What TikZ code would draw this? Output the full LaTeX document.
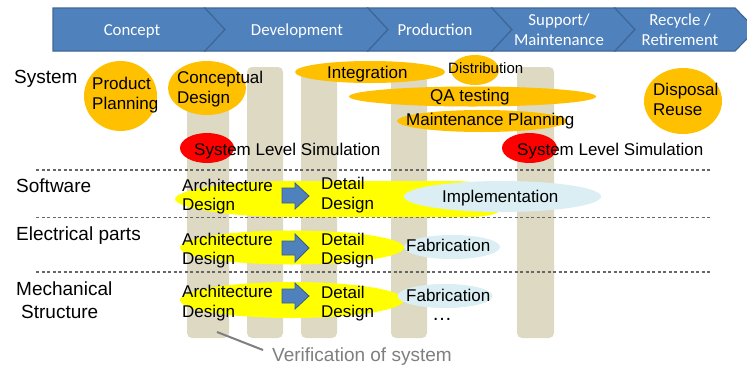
\documentclass[tikz,border=0pt]{standalone}
\usepackage{fontspec}
\setmainfont{Liberation Sans}
\newfontfamily\hdrfont{Carlito}
\usetikzlibrary{shapes.geometric}
\definecolor{hdrblue}{HTML}{4F81BD}
\definecolor{hdrline}{HTML}{3F6797}
\definecolor{pillarc}{HTML}{DDD9C3}
\definecolor{orng}{HTML}{FFC000}
\definecolor{ltblue}{HTML}{DAEEF3}
\definecolor{yel}{HTML}{FFFF00}
\definecolor{rd}{HTML}{FF0000}
\definecolor{dashgrey}{HTML}{666666}
\definecolor{vgrey}{HTML}{7F7F7F}
\definecolor{arrblue}{HTML}{4F81BD}
\definecolor{arrline}{HTML}{385D8A}
\tikzset{
  chev/.style={fill=hdrblue, draw=hdrline, line width=1.2pt, line join=miter},
  hdr/.style={anchor=base, inner sep=0pt, text=white, font=\hdrfont\fontsize{16.8}{20}\selectfont},
  txt/.style={anchor=base west, inner sep=0pt, font=\fontsize{17}{20}\selectfont},
  small/.style={anchor=base west, inner sep=0pt, font=\fontsize{15}{18}\selectfont},
  rowlbl/.style={anchor=base west, inner sep=0pt, font=\fontsize{19}{22}\selectfont},
  pil/.style={fill=pillarc, rounded corners=5pt},
  ell/.style={ellipse, draw=none, inner sep=0pt},
  oell/.style={ell, fill=orng},
  rell/.style={ell, fill=rd},
  yell/.style={ell, fill=yel},
  bell/.style={ell, fill=ltblue},
  sep/.style={draw=dashgrey, line width=1.1pt, dash pattern=on 3pt off 2.5pt},
  blk/.style={fill=arrblue, draw=arrline, line width=0.8pt},
  vline/.style={draw=vgrey, line width=2pt}
}
\begin{document}
\begin{tikzpicture}[x=1pt,y=-1pt]
\useasboundingbox (0,0) rectangle (747,365);
\fill[white] (0,0) rectangle (747,365);

% header chevrons
\filldraw[chev] (53,8) -- (205,8) -- (225,29.5) -- (205,51) -- (53,51) -- cycle;
\filldraw[chev] (205,8) -- (368,8) -- (388,29.5) -- (368,51) -- (205,51) -- (225,29.5) -- cycle;
\filldraw[chev] (368,8) -- (492,8) -- (512,29.5) -- (492,51) -- (368,51) -- (388,29.5) -- cycle;
\filldraw[chev] (492,8) -- (615,8) -- (635,29.5) -- (615,51) -- (492,51) -- (512,29.5) -- cycle;
\filldraw[chev] (615,8) -- (735,8) -- (756,29.5) -- (735,51) -- (615,51) -- (635,29.5) -- cycle;
\node[hdr] (hconcept) at (132,35.7) {Concept};
\node[hdr] (hdev) at (297,35.7) {Development};
\node[hdr] (hprod) at (435,35.7) {Production};
\node[hdr] (hsup1) at (559,25) {Support/};
\node[hdr] (hsup2) at (559,45) {Maintenance};
\node[hdr] (hrec1) at (680,25) {Recycle /};
\node[hdr] (hrec2) at (680,45) {Retirement};

% pillars
\fill[pil] (187,72) rectangle (229,338);
\fill[pil] (247,67) rectangle (283,338);
\fill[pil] (301,72) rectangle (337,338);
\fill[pil] (391,72) rectangle (427,338);
\fill[pil] (517,67) rectangle (554,338);

% dashed separators
\coordinate (s1a) at (36,170);   \coordinate (s1b) at (710,170);
\coordinate (s2a) at (36,217.5); \coordinate (s2b) at (710,217.5);
\coordinate (s3a) at (36,272);   \coordinate (s3b) at (710,272);
\draw[sep] (s1a) -- (s1b);
\draw[sep] (s2a) -- (s2b);
\draw[sep] (s3a) -- (s3b);

% system row shapes
\node[oell, minimum width=73pt, minimum height=70pt] (pp) at (120.5,96) {};
\node[oell, minimum width=78pt, minimum height=54pt] (cd) at (207,88) {};
\node[oell, minimum width=150pt, minimum height=22pt] (integ) at (370,72) {};
\node[oell, minimum width=48pt, minimum height=30pt] (distr) at (475,70) {};
\node[oell, minimum width=247pt, minimum height=20pt] (qa) at (472.5,96.5) {};
\node[oell, minimum width=170pt, minimum height=22pt] (mp) at (482,121) {};
\node[oell, minimum width=78pt, minimum height=66pt] (disp) at (683,101) {};
\node[rell, minimum width=54pt, minimum height=30pt] (sls1) at (207,148) {};
\node[rell, minimum width=55pt, minimum height=30pt] (sls2) at (529.5,148) {};

% software / electrical / mechanical shapes
\fill[yel] (175,199) .. controls (175,190) and (230,181) .. (290,181) -- (450,181)
  .. controls (490,181) and (508,190) .. (508,199)
  .. controls (508,210) and (495,217) .. (470,217) -- (290,217)
  .. controls (230,217) and (175,208) .. cycle;
\node[bell, minimum width=197pt, minimum height=31pt] (impl) at (502.5,196.5) {};
\node[yell, minimum width=224pt, minimum height=34pt] (ey) at (292,247.5) {};
\node[bell, minimum width=96pt, minimum height=24pt] (efab) at (452,247) {};
\node[yell, minimum width=224pt, minimum height=36pt] (my) at (292,300) {};
\node[bell, minimum width=95pt, minimum height=24pt] (mfab) at (445,296) {};

% block arrows
\filldraw[blk] (282,188) -- (295,188) -- (295,183) -- (309,196) -- (295,209) -- (295,203) -- (282,203) -- cycle;
\filldraw[blk] (282,241) -- (295,241) -- (295,234) -- (309,248) -- (295,262) -- (295,255) -- (282,255) -- cycle;
\filldraw[blk] (282,289) -- (295,289) -- (295,283) -- (309,296) -- (295,309) -- (295,303) -- (282,303) -- cycle;

% row labels
\node[rowlbl] (lsys) at (14,83) {System};
\node[rowlbl] (lsw) at (16,192) {Software};
\node[rowlbl] (lel) at (16,240) {Electrical parts};
\node[rowlbl] (lme1) at (16,295) {Mechanical};
\node[rowlbl] (lme2) at (21,318) {Structure};

% system texts
\node[txt] (tpp1) at (92,89.3) {Product};
\node[txt] (tpp2) at (92,109.3) {Planning};
\node[txt] (tcd1) at (177,83.3) {Conceptual};
\node[txt] (tcd2) at (177,103.3) {Design};
\node[txt] (tint) at (327,78.3) {Integration};
\node[small] (tdis) at (448,73.3) {Distribution};
\node[txt] (tqa) at (430,101.7) {QA testing};
\node[txt] (tmp) at (406,125.7) {Maintenance Planning};
\node[txt] (tsls1) at (194,155) {System Level Simulation};
\node[txt] (tsls2) at (517,155) {System Level Simulation};
\node[txt] (tdp1) at (653,95) {Disposal};
\node[txt] (tdp2) at (653,115) {Reuse};

% lower texts
\node[txt] (swa1) at (182,191) {Architecture};
\node[txt] (swa2) at (182,210) {Design};
\node[txt] (swd1) at (321,189) {Detail};
\node[txt] (swd2) at (321,209) {Design};
\node[txt] (timpl) at (442,202.3) {Implementation};
\node[txt] (ela1) at (182,245) {Architecture};
\node[txt] (ela2) at (182,264.3) {Design};
\node[txt] (eld1) at (321,245) {Detail};
\node[txt] (eld2) at (321,264) {Design};
\node[txt] (tefab) at (406,251.7) {Fabrication};
\node[txt] (mea1) at (182,297.7) {Architecture};
\node[txt] (mea2) at (182,317.7) {Design};
\node[txt] (med1) at (321,298.3) {Detail};
\node[txt] (med2) at (321,317.7) {Design};
\node[txt] (tmfab) at (406,301) {Fabrication};
\node[anchor=base west, inner sep=0pt, font=\fontsize{20}{22}\selectfont] (tdots) at (432,320) {…};

% verification callout
\coordinate (vfrom) at (217,332);
\coordinate (vto) at (263,350);
\draw[vline] (vfrom) -- (vto);
\node[anchor=base west, inner sep=0pt, text=vgrey, font=\fontsize{19}{22}\selectfont] (tver) at (272,361) {Verification of system};
\end{tikzpicture}
\end{document}
